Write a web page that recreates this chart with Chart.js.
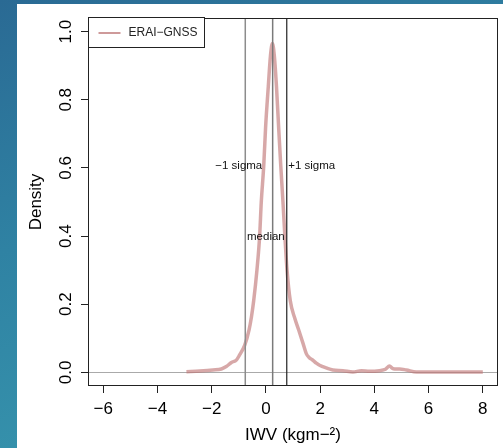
<!DOCTYPE html>
<html>
<head>
<meta charset="utf-8">
<script src="https://cdn.jsdelivr.net/npm/chart.js@4/dist/chart.umd.min.js"></script>
<style>
  html, body { margin:0; padding:0; width:503px; height:448px; overflow:hidden; }
  body { background: linear-gradient(160deg, #2a6a94 0%, #2f82a3 40%, #3a9db2 100%); position:relative; }
  #panel { position:absolute; left:17px; top:4px; width:486px; height:444px; background:#fff; }
  canvas { display:block; }
</style>
</head>
<body>
<div id="panel"><canvas id="c" width="486" height="444"></canvas></div>
<script>
// ---- data ----
const seriesLabel = 'ERAI\u2212GNSS';
const densityX = [-2.93,-2.44,-1.95,-1.64,-1.46,-1.27,-1.09,-0.97,-0.78,-0.62,-0.53,-0.45,-0.33,-0.23,-0.17,-0.08,-0.01,0.09,0.17,0.24,0.31,0.39,0.47,0.55,0.63,0.70,0.78,0.90,1.06,1.22,1.37,1.49,1.60,1.71,1.86,1.98,2.23,2.47,2.84,3.21,3.52,3.82,4.19,4.41,4.56,4.66,4.75,4.93,5.18,5.55,6.50,8.00];
const densityY = [0.002,0.004,0.007,0.010,0.017,0.029,0.036,0.051,0.080,0.125,0.164,0.210,0.300,0.400,0.500,0.605,0.720,0.840,0.930,0.965,0.930,0.840,0.720,0.605,0.500,0.400,0.300,0.210,0.160,0.122,0.085,0.055,0.043,0.037,0.027,0.021,0.013,0.007,0.005,0.001,0.005,0.003,0.005,0.009,0.019,0.012,0.010,0.010,0.007,0.001,0.001,0.001];
const markerValues = [-0.76, 0.25, 0.77];        // -1 sigma, median, +1 sigma
const markerLabels = ['\u22121 sigma', 'median', '+1 sigma'];
const markerLabelX = [-1.0, 0.0, 1.69];
const markerLabelY = [0.605, 0.397, 0.605];
const xTicks = [-6,-4,-2,0,2,4,6,8];
const yTicks = [0.0,0.2,0.4,0.6,0.8,1.0];
const yTickLabels = ['0.0','0.2','0.4','0.6','0.8','1.0'];
const xRange = [-6.56, 8.56];
const yRange = [-0.04, 1.04];

const FONT = '"Liberation Sans", Arial, sans-serif';

const curve = densityX.map((x,i)=>({x:x, y:densityY[i]}));
const markerColors = ['#8c8c8c','#7a7a7a','#222222'];
const markerSets = markerValues.map((v,i)=>({
  label: markerLabels[i],
  data: [{x:v,y:yRange[0]},{x:v,y:yRange[1]}],
  borderColor: markerColors[i],
  borderWidth: i===2 ? 1.2 : 1.5,
  pointRadius: 0,
  order: 0
}));

const overlay = {
  id:'overlay',
  beforeDatasetsDraw(chart){
    const {ctx, chartArea:a, scales:{x,y}} = chart;
    const y0 = Math.round(y.getPixelForValue(0)) + 0.5;
    ctx.save();
    ctx.strokeStyle = '#aaaaaa'; ctx.lineWidth = 1;
    ctx.beginPath(); ctx.moveTo(a.left, y0); ctx.lineTo(a.right, y0); ctx.stroke();
    ctx.restore();
  },
  afterDatasetsDraw(chart){
    const {ctx, chartArea:a, scales:{x,y}} = chart;
    ctx.save();
    // marker texts
    ctx.fillStyle = '#111';
    ctx.font = '11.5px ' + FONT;
    ctx.textAlign = 'center'; ctx.textBaseline = 'middle';
    markerLabels.forEach((t,i)=>{
      ctx.fillText(t, x.getPixelForValue(markerLabelX[i]), y.getPixelForValue(markerLabelY[i]));
    });
    // y tick labels rotated
    ctx.font = '17px ' + FONT;
    ctx.fillStyle = '#000';
    yTicks.forEach((v,i)=>{
      const py = y.getPixelForValue(v);
      ctx.save();
      ctx.translate(a.left - 22, py);
      ctx.rotate(-Math.PI/2);
      ctx.textAlign='center'; ctx.textBaseline='middle';
      ctx.fillText(yTickLabels[i], 0, 0);
      ctx.restore();
    });
    // box
    ctx.strokeStyle = '#222'; ctx.lineWidth = 1;
    ctx.strokeRect(Math.round(a.left)+0.5, Math.round(a.top)+0.5, Math.round(a.right-a.left)-1, Math.round(a.bottom-a.top)-1);
    // legend
    const lx = Math.round(a.left)+0.5, ly = Math.round(a.top)-0.5;
    ctx.fillStyle = '#fff';
    ctx.fillRect(lx, ly, 116, 30);
    ctx.strokeStyle = '#222';
    ctx.strokeRect(lx, ly, 116, 30);
    ctx.strokeStyle = 'rgba(190,120,120,0.75)'; ctx.lineWidth = 2;
    ctx.beginPath(); ctx.moveTo(lx+10, ly+15.5); ctx.lineTo(lx+32, ly+15.5); ctx.stroke();
    ctx.fillStyle = '#222';
    ctx.font = '12px ' + FONT;
    ctx.textAlign = 'left'; ctx.textBaseline = 'middle';
    ctx.fillText(chart.data.datasets[0].label, lx+40, ly+15.5);
    ctx.restore();
  }
};

new Chart(document.getElementById('c'), {
  type: 'line',
  data: {
    datasets: [
      {
        label: seriesLabel,
        data: curve,
        borderColor: 'rgba(190,115,115,0.62)',
        borderWidth: 3.5,
        pointRadius: 0,
        tension: 0.35,
        cubicInterpolationMode: 'monotone',
        order: 1
      },
      ...markerSets
    ]
  },
  plugins: [overlay],
  options: {
    responsive: false,
    animation: false,
    events: [],
    layout: { padding: { left: 0, top: 14, right: 5, bottom: 0 } },
    plugins: { legend: { display:false }, tooltip: { enabled:false } },
    scales: {
      x: {
        type: 'linear',
        min: xRange[0], max: xRange[1],
        afterBuildTicks(s){ s.ticks = xTicks.map(v=>({value:v})); },
        afterFit(s){ s.height = 62; },
        border: { display:false },
        grid: { drawOnChartArea:false, drawTicks:true, tickLength:7, tickColor:'#222', lineWidth:1 },
        ticks: {
          color:'#000', padding:6, maxRotation:0,
          font:{ family:FONT, size:17 },
          callback:(v)=> (v<0 ? '\u2212'+Math.abs(v) : String(v))
        },
        title: { display:true, text:'IWV (kgm\u2212\u00b2)', color:'#000', font:{family:FONT, size:17}, padding:{top:0,bottom:2} }
      },
      y: {
        type: 'linear',
        min: yRange[0], max: yRange[1],
        afterBuildTicks(s){ s.ticks = yTicks.map(v=>({value:v})); },
        afterFit(s){ s.width = 71; },
        border: { display:false },
        grid: { drawOnChartArea:false, drawTicks:true, tickLength:7, tickColor:'#222', lineWidth:1 },
        ticks: { display:false },
        title: { display:true, text:'Density', color:'#000', font:{family:FONT, size:17}, padding:{top:9,bottom:0} }
      }
    }
  }
});
</script>
</body>
</html>
